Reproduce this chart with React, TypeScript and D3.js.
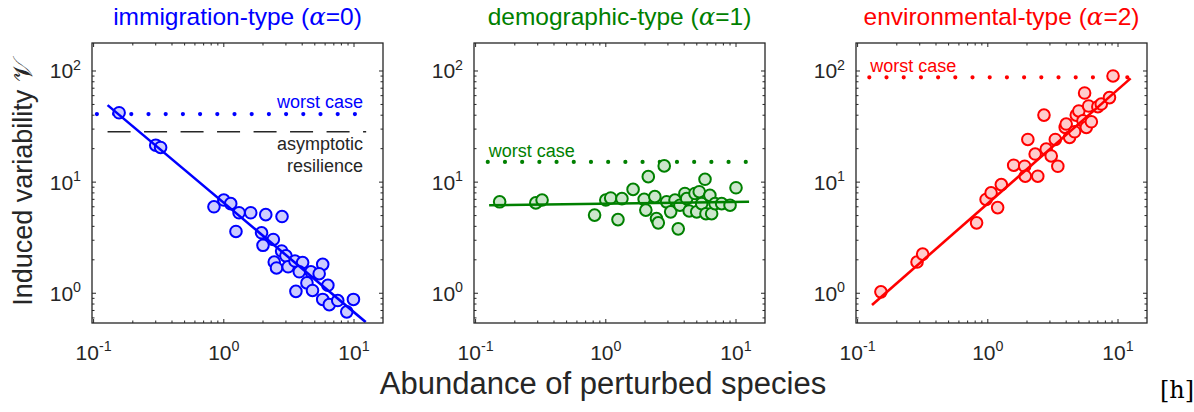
import React from "react";
import * as d3 from "d3";

// abundance (x) and induced variability (y)
const immigrationX = [0.157, 0.3, 0.327, 0.84, 1.0, 1.13, 1.31, 1.61, 1.24, 2.1, 2.8, 1.95, 2.0, 2.4, 2.78, 3.0, 2.44, 2.54, 3.12, 3.52, 4.03, 3.8, 4.67, 4.35, 4.8, 5.75, 5.4, 6.3, 3.58, 5.75, 6.46, 7.5, 8.8, 9.9];
const immigrationY = [42.1, 21.5, 20.5, 6.0, 6.9, 6.4, 5.3, 5.3, 3.6, 5.1, 4.9, 3.5, 2.7, 3.05, 2.4, 2.17, 1.91, 1.69, 1.73, 1.95, 1.89, 1.56, 1.56, 1.24, 1.06, 1.82, 1.5, 1.18, 1.04, 0.88, 0.79, 0.86, 0.68, 0.88];

const demographicX = [0.153, 0.29, 0.324, 0.82, 1.0, 1.09, 1.24, 1.33, 1.62, 1.97, 2.12, 2.03, 2.38, 2.45, 2.53, 2.81, 2.93, 3.15, 3.4, 3.6, 3.71, 4.05, 4.18, 4.37, 4.84, 5.22, 4.99, 5.78, 5.45, 5.88, 6.3, 6.5, 6.9, 7.76, 9.0, 10.0];
const demographicY = [6.65, 6.5, 6.9, 5.05, 6.9, 7.2, 4.6, 7.1, 8.6, 7.0, 11.2, 5.6, 7.4, 4.7, 4.3, 14.0, 6.65, 5.4, 6.9, 3.8, 6.2, 7.9, 7.1, 5.5, 7.9, 8.2, 5.4, 10.6, 6.4, 5.2, 7.6, 5.2, 6.4, 6.4, 6.2, 8.9];

const environmentalX = [0.151, 0.286, 0.316, 0.82, 0.97, 1.06, 1.19, 1.27, 1.58, 1.92, 1.94, 2.03, 2.31, 2.42, 2.7, 2.81, 3.07, 3.3, 3.45, 3.93, 4.0, 4.25, 4.64, 4.78, 5.0, 5.38, 5.54, 5.71, 5.95, 6.24, 7.0, 7.44, 8.6, 9.16];
const environmentalY = [1.03, 1.91, 2.25, 4.3, 6.98, 8.0, 5.9, 9.5, 14.2, 13.9, 11.3, 24.2, 17.9, 11.3, 40.1, 19.8, 17.2, 24.2, 13.9, 31.1, 33.3, 25.3, 28.4, 40.1, 43.7, 35.6, 63.4, 31.1, 48.4, 34.9, 47.7, 50.4, 57.6, 90.2];

// fitted power-law lines, as endpoints [start, end]
const fitX = [[0.128, 12.3], [0.127, 12.6], [0.129, 12.5]];
const fitY = [[49.3, 0.55], [6.2, 6.65], [0.785, 85.8]];

// worst case levels and their x extent
const worstCase = [41, 15.2, 87.7];
const worstX = [[0.106, 12.5], [0.124, 12.8], [0.123, 12.3]];
const asymptoticResilience = 28.4;
const asymptoticX = [0.128, 12.4];

const titles = ["immigration-type", "demographic-type", "environmental-type"];
const alphas = ["0", "1", "2"];
const xTickExps = [-1, 0, 1];
const yTickExps = [0, 1, 2];

const colors = ["#0000ff", "#008000", "#ff0000"];
const fills = ["#ccccff", "#cce6cc", "#ffcccc"];
const ink = "#262626";
const font = "'Liberation Sans', Arial, sans-serif";

const panelLeft = [92, 474, 856];
const panelW = 291;
const top = 43;
const bottom = 323;

const xScale = d3.scaleLog().domain([0.0972, 16.7]).range([0, panelW]);
const yScale = d3.scaleLog().domain([0.54, 178.6]).range([bottom, top]);

const minorX: number[] = [];
[0.1, 1, 10].forEach((d) => d3.range(2, 10).forEach((k) => {
  const v = d * k;
  if (v < 16.7) minorX.push(v);
}));
const minorY: number[] = [];
[0.1, 1, 10, 100].forEach((d) => d3.range(2, 10).forEach((k) => {
  const v = d * k;
  if (v > 0.54 && v < 178.6) minorY.push(v);
}));

const Pow10 = ({ e, x, y, anchor, size }: { e: number; x: number; y: number; anchor: string; size: number }) => (
  <text x={x} y={y} textAnchor={anchor} fontFamily={font} fontSize={size} fill={ink}>
    10<tspan dy={-size * 0.42} fontSize={size * 0.68}>{e}</tspan>
  </text>
);

const Panel = ({ i }: { i: number }) => {
  const left = panelLeft[i];
  const xs = [immigrationX, demographicX, environmentalX][i];
  const ys = [immigrationY, demographicY, environmentalY][i];
  const px = (v: number) => xScale(v);
  const line = d3.line<[number, number]>().x((d) => px(d[0])).y((d) => yScale(d[1]));
  const fit: [number, number][] = fitX[i].map((x, k) => [x, fitY[i][k]]);
  const clipId = `clip${i}`;
  return (
    <g transform={`translate(${left},0)`}>
      <defs>
        <clipPath id={clipId}>
          <rect x={0} y={top} width={panelW} height={bottom - top} />
        </clipPath>
      </defs>
      <text x={panelW / 2} y={25} textAnchor="middle" fontFamily={font} fontSize={24.5} fill={colors[i]}>
        {titles[i]} (<tspan fontFamily="'DejaVu Serif', serif" fontStyle="italic">α</tspan>={alphas[i]})
      </text>

      {/* worst case dotted line */}
      <line x1={px(worstX[i][0])} x2={px(worstX[i][1])} y1={yScale(worstCase[i])} y2={yScale(worstCase[i])}
        stroke={colors[i]} strokeWidth={4.2} strokeLinecap="round" strokeDasharray="0 17.2" />
      {i === 0 && (
        <line x1={px(asymptoticX[0])} x2={px(asymptoticX[1])} y1={yScale(asymptoticResilience)} y2={yScale(asymptoticResilience)}
          stroke={ink} strokeWidth={1.6} strokeDasharray="23 13.5" />
      )}
      {i === 0 ? (
        <>
          <text x={271} y={108} textAnchor="end" fontFamily={font} fontSize={18} fill={colors[i]}>worst case</text>
          <text x={271} y={150} textAnchor="end" fontFamily={font} fontSize={18} fill={ink}>asymptotic</text>
          <text x={271} y={172} textAnchor="end" fontFamily={font} fontSize={18} fill={ink}>resilience</text>
        </>
      ) : (
        <text x={px(worstX[i][0]) + 1} y={yScale(worstCase[i]) - 5} fontFamily={font} fontSize={18} fill={colors[i]}>worst case</text>
      )}

      <g clipPath={`url(#${clipId})`}>
        {xs.map((x, k) => (
          <circle key={k} cx={px(x)} cy={yScale(ys[k])} r={5.8} fill={fills[i]} stroke={colors[i]} strokeWidth={2} />
        ))}
        <path d={line(fit) || ""} fill="none" stroke={colors[i]} strokeWidth={2.6} />
      </g>

      {/* axes box and ticks */}
      <rect x={0} y={top} width={panelW} height={bottom - top} fill="none" stroke={ink} strokeWidth={1.3} />
      {xTickExps.map((e) => {
        const x = px(Math.pow(10, e));
        return (
          <g key={`xt${e}`}>
            <line x1={x} x2={x} y1={bottom} y2={bottom - 4} stroke={ink} />
            <line x1={x} x2={x} y1={top} y2={top + 4} stroke={ink} />
            <Pow10 e={e} x={x} y={360} anchor="middle" size={21} />
          </g>
        );
      })}
      {minorX.map((v, k) => (
        <g key={`xm${k}`}>
          <line x1={px(v)} x2={px(v)} y1={bottom} y2={bottom - 2.5} stroke={ink} />
          <line x1={px(v)} x2={px(v)} y1={top} y2={top + 2.5} stroke={ink} />
        </g>
      ))}
      {yTickExps.map((e) => {
        const y = yScale(Math.pow(10, e));
        return (
          <g key={`yt${e}`}>
            <line x1={0} x2={4} y1={y} y2={y} stroke={ink} />
            <line x1={panelW} x2={panelW - 4} y1={y} y2={y} stroke={ink} />
            <Pow10 e={e} x={-11} y={y + 7.5} anchor="end" size={21} />
          </g>
        );
      })}
      {minorY.map((v, k) => (
        <g key={`ym${k}`}>
          <line x1={0} x2={2.5} y1={yScale(v)} y2={yScale(v)} stroke={ink} />
          <line x1={panelW} x2={panelW - 2.5} y1={yScale(v)} y2={yScale(v)} stroke={ink} />
        </g>
      ))}
    </g>
  );
};

export default function App() {
  return (
    <svg width={1194} height={412} style={{ position: "absolute", left: 0, top: 0, background: "#fff" }}>
      {[0, 1, 2].map((i) => <Panel key={i} i={i} />)}
      <text transform={`translate(32,${(top + bottom) / 2}) rotate(-90)`} textAnchor="middle" fontFamily={font} fontSize={27} fill={ink}>
        Induced variability <tspan fontFamily="'DejaVu Sans', serif">𝒱</tspan>
      </text>
      <text x={603} y={394} textAnchor="middle" fontFamily={font} fontSize={31} fill={ink}>Abundance of perturbed species</text>
      <text x={1160} y={398} fontFamily="'DejaVu Serif', 'Liberation Serif', serif" fontSize={24} fill="#000">[h]</text>
    </svg>
  );
}
